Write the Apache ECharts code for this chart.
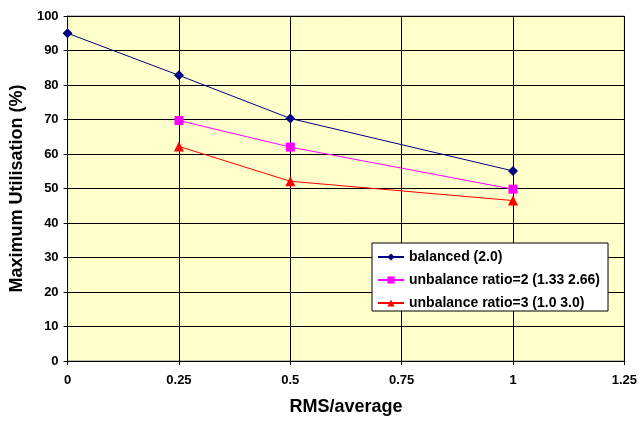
<!DOCTYPE html>
<html><head><meta charset="utf-8">
<script src="https://cdn.jsdelivr.net/npm/echarts@6/dist/echarts.min.js"></script>
<style>html,body{margin:0;padding:0;background:#fff}#c{width:640px;height:421px}</style>
</head><body><div id="c"></div>
<script>
const seriesNames = ['balanced (2.0)', 'unbalance ratio=2 (1.33 2.66)', 'unbalance ratio=3 (1.0 3.0)'];
const balanced = [[0, 95], [0.25, 82.8], [0.5, 70.3], [1, 55.1]];
const ratio2 = [[0.25, 69.7], [0.5, 62.0], [1, 49.8]];
const ratio3 = [[0.25, 62.2], [0.5, 52.1], [1, 46.5]];
const colors = ['#000080', '#FF00FF', '#FF0000'];
const symbols = ['diamond', 'rect', 'triangle'];
const symSizes = [10, 9, 10];
const datasets = [balanced, ratio2, ratio3];
const font = 'Liberation Sans, Arial, sans-serif';
const chart = echarts.init(document.getElementById('c'));
chart.setOption({
  animation: false,
  backgroundColor: '#fff',
  grid: { left: 67, right: 13, top: 16, bottom: 57, show: true, backgroundColor: '#FFFFCC', borderColor: '#808080', borderWidth: 1 },
  xAxis: {
    type: 'value', min: 0, max: 1.25, interval: 0.25,
    name: 'RMS/average', nameLocation: 'middle', nameGap: 37,
    nameTextStyle: { fontFamily: font, fontWeight: 'bold', fontSize: 18, color: '#000' },
    axisLine: { show: true, lineStyle: { color: '#000', width: 1 } },
    axisTick: { show: true, length: 4, lineStyle: { color: '#000' } },
    axisLabel: { fontFamily: font, fontWeight: 'bold', fontSize: 13, color: '#000', margin: 13 },
    splitLine: { show: true, lineStyle: { color: '#000', width: 1 } }
  },
  yAxis: {
    type: 'value', min: 0, max: 100, interval: 10,
    name: 'Maximum Utilisation (%)', nameLocation: 'middle', nameGap: 38,
    nameTextStyle: { fontFamily: font, fontWeight: 'bold', fontSize: 18, color: '#000' },
    axisLine: { show: true, lineStyle: { color: '#000', width: 1 } },
    axisTick: { show: true, length: 4, lineStyle: { color: '#000' } },
    axisLabel: { fontFamily: font, fontWeight: 'bold', fontSize: 13, color: '#000', margin: 9 },
    splitLine: { show: true, lineStyle: { color: '#000', width: 1 } }
  },
  legend: {
    orient: 'vertical', left: 372, top: 243,
    backgroundColor: '#fff', borderColor: '#000', borderWidth: 1,
    padding: [7, 8, 1, 5], itemGap: 9, itemWidth: 26, itemHeight: 9,
    textStyle: { fontFamily: font, fontWeight: 'bold', fontSize: 14, color: '#000' },
    data: seriesNames
  },
  series: datasets.map((d, i) => ({
    name: seriesNames[i], type: 'line', data: d,
    symbol: symbols[i], symbolSize: symSizes[i],
    lineStyle: { color: colors[i], width: 1 },
    itemStyle: { color: colors[i] }
  }))
});
</script></body></html>
